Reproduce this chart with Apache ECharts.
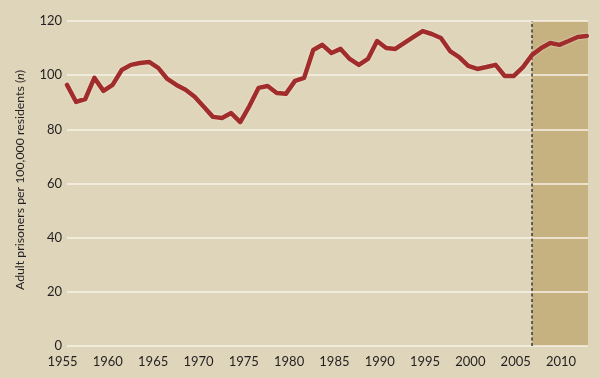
<!DOCTYPE html>
<html>
<head>
<meta charset="utf-8">
<script src="https://cdn.jsdelivr.net/npm/echarts@6/dist/echarts.min.js"></script>
<style>
html,body{margin:0;padding:0;background:#dfd5ba;}
#chart{width:600px;height:378px;}
</style>
</head>
<body>
<div id="chart"></div>
<script>
// Years (data points)
var years = [1956,1957,1958,1959,1960,1961,1962,1963,1964,1965,1966,1967,1968,1969,1970,
  1971,1972,1973,1974,1975,1976,1977,1978,1979,1980,1981,1982,1983,1984,1985,1986,1987,
  1988,1989,1990,1991,1992,1993,1994,1995,1996,1997,1998,1999,2000,2001,2002,2003,2004,
  2005,2006,2007,2008,2009,2010,2011,2012,2013];
// Adult prisoners per 100,000 residents
var rates = [96.4,90.1,91.2,99.0,94.2,96.4,101.9,103.8,104.5,104.9,102.7,98.6,96.4,94.6,92.0,
  88.3,84.6,84.2,86.0,82.7,88.6,95.3,96.0,93.4,93.1,97.9,99.0,109.3,111.2,108.2,109.7,106.0,
  103.8,106.0,112.6,110.0,109.7,111.9,114.1,116.3,115.2,113.7,108.9,106.7,103.4,102.3,103.0,
  103.8,99.7,99.7,103.0,107.5,110.0,111.9,111.2,112.6,114.1,114.5];
var yTicks = [0,20,40,60,80,100,120];
var xTickLabels = [1955,1960,1965,1970,1975,1980,1985,1990,1995,2000,2005,2010];
var projectionStart = 2007;
var dataXMax = 2013.13;

var chart = echarts.init(document.getElementById('chart'), null, {renderer:'canvas'});
var font = 'Lato, "Open Sans", sans-serif';
var textColor = '#231f20';

var option = {
  backgroundColor: '#dfd5ba',
  animation: false,
  grid: [
    {left: 67, right: 12, top: 21, bottom: 32},
    {left: 62.5, right: 11.8, top: 21, bottom: 32}
  ],
  xAxis: [
    {type:'value', gridIndex:0, min: years[0], max: dataXMax, show:false, splitLine:{show:false}},
    {type:'value', gridIndex:1, min: xTickLabels[0], max: 2013, interval: 5,
     axisLine:{show:false}, axisTick:{show:false}, splitLine:{show:false},
     axisLabel:{show:true, margin: 9, color: textColor, fontFamily: font, fontSize: 13,
       showMaxLabel:false, showMinLabel:true,
       formatter: function(v){ return xTickLabels.indexOf(v) >= 0 ? String(v) : ''; }}}
  ],
  yAxis: [
    {type:'value', gridIndex:0, min: yTicks[0], max: yTicks[yTicks.length-1], interval: 20, z: 1.5,
     axisLine:{show:false}, axisTick:{show:false},
     splitLine:{show:true, lineStyle:{color:'#f7f2e6', width:1.5}},
     axisLabel:{margin: 5, color: textColor, fontFamily: font, fontSize: 13}},
    {type:'value', gridIndex:1, min:0, max:120, show:false, splitLine:{show:false}}
  ],
  series: [
    {
      type:'line', xAxisIndex:0, yAxisIndex:0, z:1, data: [], silent:true,
      markArea: {
        silent:true,
        itemStyle:{color:'#c6b180'},
        data: [[{xAxis: projectionStart}, {xAxis: dataXMax}]]
      }
    },
    {
      type:'line', xAxisIndex:0, yAxisIndex:0, z:3,
      data: years.map(function(y,i){ return [y, rates[i]]; }),
      symbol:'none',
      lineStyle:{color:'#a02d2b', width:4.5, cap:'round', join:'round',
        shadowColor:'rgba(250,240,225,0.9)', shadowBlur:2},
      markLine: {
        silent:true, symbol:'none', z:2,
        label:{show:false},
        lineStyle:{color:'#3d3a35', type:[3,2.5], width:1.5},
        data: [{xAxis: projectionStart}]
      }
    }
  ],
  graphic: [
    {
      type:'text', x: 20, y: 180, rotation: Math.PI/2,
      style: {
        text: 'Adult prisoners per 100,000 residents ({i|n})',
        fill: textColor, font: '12.3px ' + font,
        textAlign:'center', textVerticalAlign:'middle',
        rich: { i: {fontStyle:'italic', fontSize:12.3, fontFamily: font, fill: textColor} }
      }
    }
  ]
};
chart.setOption(option);
</script>
</body>
</html>
